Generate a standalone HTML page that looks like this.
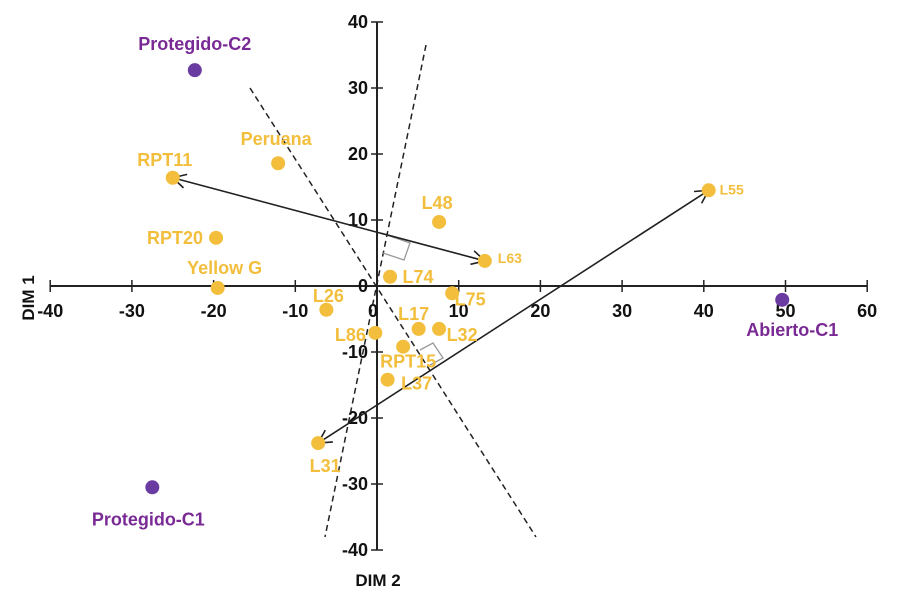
<!DOCTYPE html>
<html><head><meta charset="utf-8"><style>
body{margin:0;background:#fff;}
svg{display:block;font-family:"Liberation Sans",Arial,sans-serif;font-weight:bold;}
</style></head><body>
<svg id="c" width="900" height="599"></svg>
<script>
const names=["Protegido-C2","Protegido-C1","Abierto-C1","RPT11","Peruana","RPT20","Yellow G","L48","L63","L55","L74","L75","L26","L17","L32","L86","RPT15","L37","L31"];
const xVals=[-22.3,-27.5,49.6,-25,-12.1,-19.7,-19.5,7.6,13.2,40.6,1.6,9.2,-6.2,5.1,7.6,-0.2,3.2,1.3,-7.2];
const yVals=[32.7,-30.5,-2.1,16.4,18.6,7.3,-0.3,9.7,3.8,14.5,1.4,-1.1,-3.6,-6.5,-6.5,-7.1,-9.2,-14.2,-23.8];
const groups=["C","C","C","L","L","L","L","L","L","L","L","L","L","L","L","L","L","L","L"];
const xTicks=[-40,-30,-20,-10,0,10,20,30,40,50,60];
const yTicks=[-40,-30,-20,-10,0,10,20,30,40];
// label placement offsets (px) and font sizes
const lblDx=[0,-4,10,-8,-2,-41,7,-2,25,23,28,18,2,-5,23,-25,5,29,7];
const lblDy=[-26,32,30,-18,-24,0,-20,-19,-4,-2,0,6,-14,-15,6,2,15,4,23];
const lblSize=[18,18,18,18,18,18,18,18,14,14,18,18,18,18,18,18,18,18,18];

const X0=377,XS=8.17,Y0=286,YS=6.6;
const sx=v=>X0+v*XS, sy=v=>Y0-v*YS;
const svg=document.getElementById('c');
const NS="http://www.w3.org/2000/svg";
function mk(t,a,p){const e=document.createElementNS(NS,t);for(const k in a)e.setAttribute(k,a[k]);(p||svg).appendChild(e);return e;}

const defs=mk('defs',{});
const m=mk('marker',{id:'ah',markerWidth:'16',markerHeight:'16',refX:'14',refY:'8',orient:'auto-start-reverse',markerUnits:'userSpaceOnUse'},defs);
mk('path',{d:'M1,1 L14,8 L1,15',fill:'none',stroke:'#222','stroke-width':'1.6'},m);

let ax=mk('line',{x1:sx(-40),y1:Y0,x2:sx(60),y2:Y0,stroke:'#222','stroke-width':'2'});

let ay=mk('line',{x1:X0,y1:sy(40),x2:X0,y2:sy(-40),stroke:'#222','stroke-width':'2'});

xTicks.forEach(v=>{
  const t=mk('line',{x1:sx(v),y1:Y0-6,x2:sx(v),y2:Y0+6,stroke:'#222','stroke-width':'1.5'});
  
  const l=mk('text',{x:sx(v)-(v===0?4:0),y:Y0+31,'text-anchor':'middle','font-size':'18',fill:'#111'});
  l.textContent=v;
});
yTicks.forEach(v=>{
  const t=mk('line',{x1:X0-6,y1:sy(v),x2:X0+6,y2:sy(v),stroke:'#222','stroke-width':'1.5'});
  
  const l=mk('text',{x:X0-9,y:sy(v)+6,'text-anchor':'end','font-size':'18',fill:'#111'});
  l.textContent=v;
});
let xt=mk('text',{x:378,y:586,'text-anchor':'middle','font-size':'17',fill:'#111'});xt.textContent='DIM 2';

let yt=mk('text',{x:34,y:298,'text-anchor':'middle','font-size':'17',fill:'#111',transform:'rotate(-90 34 298)'});yt.textContent='DIM 1';


let d1=mk('line',{x1:250,y1:88,x2:536,y2:537,stroke:'#222','stroke-width':'1.5','stroke-dasharray':'6,4'});

let d2=mk('line',{x1:426,y1:45,x2:325,y2:537,stroke:'#222','stroke-width':'1.5','stroke-dasharray':'6,4'});

let r1=mk('path',{d:'M387,235 L410,243 L404,260 L383,253',fill:'none',stroke:'#999','stroke-width':'1.3'});

let r2=mk('path',{d:'M420,350 L433,343 L443,358 L430,365',fill:'none',stroke:'#999','stroke-width':'1.3'});


function arrow(a,b,name){
  const e=mk('line',{x1:sx(xVals[a]),y1:sy(yVals[a]),x2:sx(xVals[b]),y2:sy(yVals[b]),stroke:'#222','stroke-width':'1.6','marker-start':'url(#ah)','marker-end':'url(#ah)'});
  
}
arrow(3,8,'arrow-rpt11-l63');
arrow(18,9,'arrow-l31-l55');

names.forEach((n,i)=>{
  const col=groups[i]==="C"?'#6A3BA0':'#F2BE3C';
  const tc=groups[i]==="C"?'#7A2A95':'#F2BE3C';
  const p=mk('circle',{cx:sx(xVals[i]),cy:sy(yVals[i]),r:7,fill:col});
  
  
  const t=mk('text',{x:sx(xVals[i])+lblDx[i],y:sy(yVals[i])+lblDy[i]+6,'text-anchor':'middle','font-size':lblSize[i],fill:tc});
  t.textContent=n;
  
  
});
</script>
</body></html>
